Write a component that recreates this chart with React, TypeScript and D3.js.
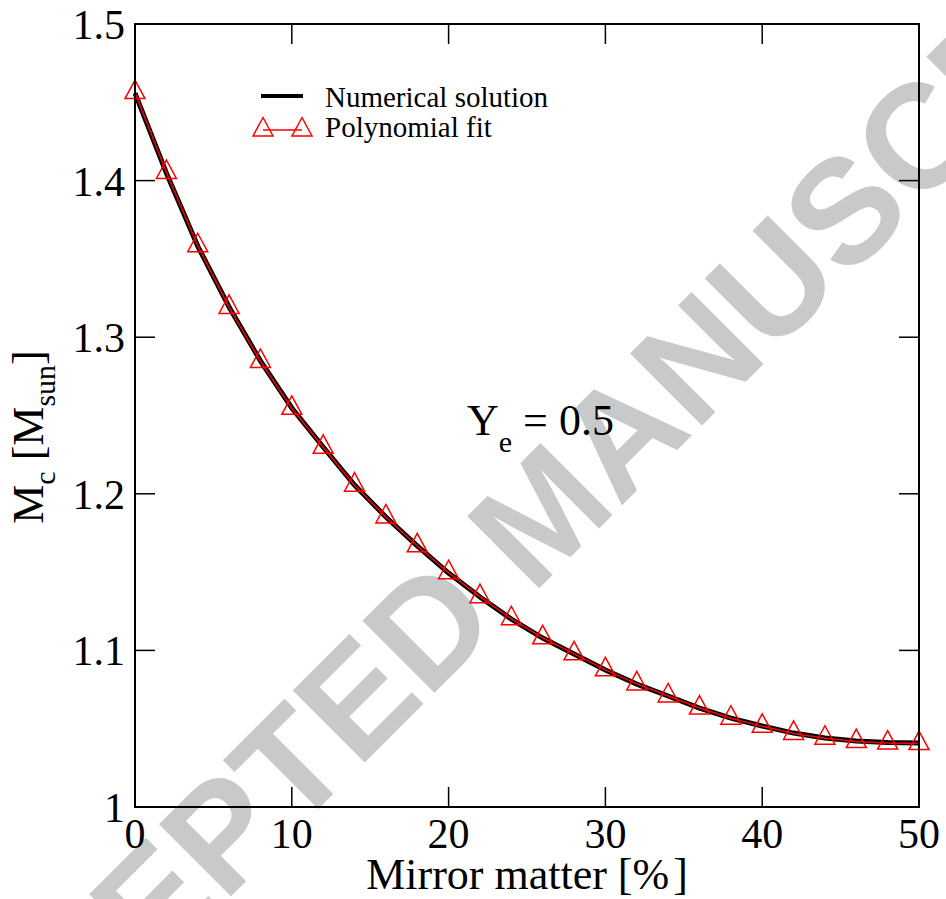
import React from "react";
import * as d3 from "d3";

const mirrorPct = [0, 2, 4, 6, 8, 10, 12, 14, 16, 18, 20, 22, 24, 26, 28, 30, 32, 34, 36, 38, 40, 42, 44, 46, 48, 50];
const numericalMc = [1.4559, 1.4049, 1.3582, 1.3193, 1.2848, 1.2548, 1.2299, 1.2056, 1.1852, 1.1667, 1.1494, 1.1341, 1.1200, 1.1079, 1.0977, 1.0875, 1.0785, 1.0709, 1.0632, 1.0568, 1.0517, 1.0472, 1.0441, 1.0421, 1.0412, 1.0409];
const polyFitMc = [1.4562, 1.4052, 1.3584, 1.3190, 1.2845, 1.2546, 1.2297, 1.2055, 1.1852, 1.1668, 1.1496, 1.1343, 1.1202, 1.1080, 1.0978, 1.0876, 1.0786, 1.0709, 1.0632, 1.0567, 1.0515, 1.0470, 1.0439, 1.0418, 1.0408, 1.0405];
const xTicks = [0, 10, 20, 30, 40, 50];
const yTicks = [1.0, 1.1, 1.2, 1.3, 1.4, 1.5];
const yTickLabels = ["1", "1.1", "1.2", "1.3", "1.4", "1.5"];

const W = 946;
const H = 899;
const L = 135, R = 919, T = 24, B = 807;
const serif = "'Liberation Serif', 'Times New Roman', serif";

function tri(cx: number, cy: number) {
  return `M${cx},${cy - 12.5} L${cx + 10},${cy + 6} L${cx - 10},${cy + 6} Z`;
}

export default function App() {
  const x = d3.scaleLinear().domain([0, 50]).range([L, R]);
  const y = d3.scaleLinear().domain([1.0, 1.5]).range([B, T]);
  const numData = mirrorPct.map((p, i) => [p, numericalMc[i]] as [number, number]);
  const fitData = mirrorPct.map((p, i) => [p, polyFitMc[i]] as [number, number]);
  const line = d3.line<[number, number]>().x(d => x(d[0])).y(d => y(d[1]));

  return (
    <svg width={W} height={H} style={{ position: "absolute", left: 0, top: 0, background: "#fff" }}>
      <rect x={0} y={0} width={W} height={H} fill="#fff" />
      <text
        x={0}
        y={0}
        transform={`translate(541,511) rotate(-45)`}
        textAnchor="middle"
        dy="0.36em"
        fontFamily="'Liberation Sans', Arial, sans-serif"
        fontWeight="bold"
        fontSize={148}
        fill="#c8c9cb"
      >
        ACCEPTED MANUSCRIPT
      </text>

      {/* data */}
      <path d={line(numData) || ""} fill="none" stroke="#000" strokeWidth={5} />
      <path d={line(fitData) || ""} fill="none" stroke="#ff0000" strokeWidth={1.5} />
      {fitData.map((d, i) => (
        <path key={i} d={tri(x(d[0]), y(d[1]))} fill="none" stroke="#ff0000" strokeWidth={1.5} />
      ))}

      {/* frame */}
      <rect x={L} y={T} width={R - L} height={B - T} fill="none" stroke="#000" strokeWidth={2} />
      {xTicks.map(t => (
        <g key={"x" + t}>
          <line x1={x(t)} x2={x(t)} y1={B} y2={B - 20} stroke="#000" strokeWidth={1.5} />
          <line x1={x(t)} x2={x(t)} y1={T} y2={T + 20} stroke="#000" strokeWidth={1.5} />
          <text x={x(t)} y={848} textAnchor="middle" fontFamily={serif} fontSize={42}>{t}</text>
        </g>
      ))}
      {yTicks.map((t, i) => (
        <g key={"y" + t}>
          <line x1={L} x2={L + 20} y1={y(t)} y2={y(t)} stroke="#000" strokeWidth={1.5} />
          <line x1={R} x2={R - 20} y1={y(t)} y2={y(t)} stroke="#000" strokeWidth={1.5} />
          <text x={125} y={y(t) + 15} textAnchor="end" fontFamily={serif} fontSize={42}>{yTickLabels[i]}</text>
        </g>
      ))}

      {/* axis titles */}
      <text x={527} y={889} textAnchor="middle" fontFamily={serif} fontSize={44}>
        Mirror matter [%<tspan dx={4}>]</tspan>
      </text>
      <text transform={`translate(43,437) rotate(-90)`} textAnchor="middle" fontFamily={serif} fontSize={44}>
        M<tspan fontSize={30} dy={12}>c</tspan>
        <tspan dy={-12}> [M</tspan>
        <tspan fontSize={30} dy={12}>sun</tspan>
        <tspan dy={-12}>]</tspan>
      </text>

      {/* annotation */}
      <text x={467} y={435} fontFamily={serif} fontSize={44}>
        Y<tspan fontSize={30} dy={17}>e</tspan>
        <tspan dy={-17}> = 0.5</tspan>
      </text>

      {/* legend */}
      <line x1={261} x2={303} y1={96} y2={96} stroke="#000" strokeWidth={4} />
      <text x={325} y={107} fontFamily={serif} fontSize={29}>Numerical solution</text>
      <line x1={263} x2={302} y1={130} y2={130} stroke="#ff0000" strokeWidth={1.5} />
      <path d={tri(263, 130)} fill="none" stroke="#ff0000" strokeWidth={1.5} />
      <path d={tri(302, 130)} fill="none" stroke="#ff0000" strokeWidth={1.5} />
      <text x={325} y={137} fontFamily={serif} fontSize={29}>Polynomial fit</text>
    </svg>
  );
}
